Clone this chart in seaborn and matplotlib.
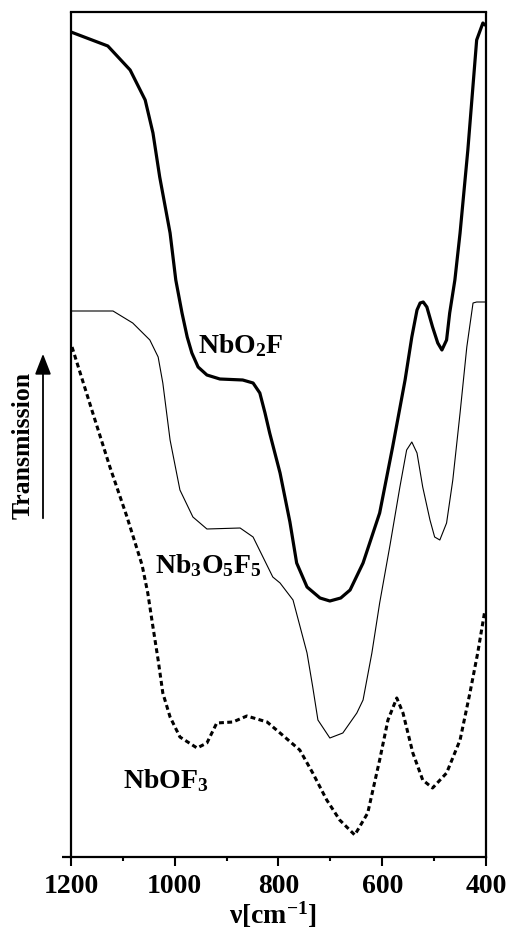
import numpy as np
import pandas as pd
import matplotlib
matplotlib.use("Agg")
import matplotlib.pyplot as plt
import seaborn as sns

# ---- data (wavenumber in cm^-1, transmission in arbitrary units) ----
nbo2f_x = [1200, 1129, 1086, 1057, 1042, 1029, 1009, 998, 986, 976,
           967, 955, 938, 913, 869, 849, 836, 826, 817, 797,
           778, 765, 745, 720, 701, 680, 662, 637, 605, 580,
           556, 543, 533, 527, 521, 514, 503, 493, 485, 476, 470,
           460, 450, 435, 418, 406, 402]
nbo2f_t = [825, 811, 787, 757, 724, 680, 624, 577, 544, 520,
           504, 490, 482, 478, 477, 474, 464, 444, 424, 384,
           335, 294, 270, 259, 256, 259, 267, 294, 344, 410,
           477, 520, 547, 554, 555, 550, 530, 514, 507, 517, 544,
           577, 624, 707, 817, 834, 832]

nb3o5f5_x = [1200, 1119, 1081, 1048, 1032, 1023, 1009, 990, 965, 938,
             874, 849, 830, 811, 797, 772, 745, 734, 724, 701,
             676, 649, 637, 620, 605, 585, 566, 553, 543, 533,
             522, 508, 499, 489, 476, 464, 450, 437, 425, 418,
             402]
nb3o5f5_t = [546, 546, 534, 517, 500, 474, 417, 367, 340, 328,
             329, 320, 300, 280, 274, 257, 204, 170, 137, 119,
             124, 144, 157, 204, 254, 312, 370, 407, 415, 404,
             370, 337, 320, 317, 334, 377, 444, 510, 554, 555,
             555]

nbof3_x = [1198, 1158, 1125, 1092, 1063, 1052, 1042, 1032, 1023, 1009,
           990, 957, 938, 919, 888, 861, 822, 797, 759, 734,
           707, 682, 653, 628, 605, 589, 572, 560, 541, 522,
           503, 476, 450, 431, 416, 402]
nbof3_t = [510, 444, 390, 340, 292, 264, 230, 197, 164, 140,
           120, 109, 114, 134, 135, 141, 135, 124, 107, 84,
           57, 37, 22, 44, 97, 137, 159, 144, 104, 77,
           69, 84, 117, 164, 204, 247]

x_ticks = [1200, 1000, 800, 600, 400]
x_minor = [1100, 900, 700, 500]

# ---- style ----
sns.set_style("ticks")
plt.rcParams["font.family"] = ["Liberation Serif", "DejaVu Serif"]
plt.rcParams["font.weight"] = "bold"
plt.rcParams["text.color"] = "black"
plt.rcParams["xtick.color"] = "black"
plt.rcParams["axes.labelcolor"] = "black"
plt.rcParams["mathtext.fontset"] = "custom"
plt.rcParams["mathtext.rm"] = "Liberation Serif:bold"
plt.rcParams["mathtext.bf"] = "Liberation Serif:bold"
plt.rcParams["mathtext.it"] = "Liberation Serif:italic:bold"

fig = plt.figure(figsize=(5.1, 9.3), dpi=100)
ax = fig.add_axes([71/510, 73/930, 415/510, 844.5/930])

df1 = pd.DataFrame({"x": nbo2f_x, "t": nbo2f_t})
df2 = pd.DataFrame({"x": nb3o5f5_x, "t": nb3o5f5_t})
df3 = pd.DataFrame({"x": nbof3_x, "t": nbof3_t})

sns.lineplot(data=df1, x="x", y="t", ax=ax, color="black", lw=2.3,
             estimator=None, sort=False)
sns.lineplot(data=df2, x="x", y="t", ax=ax, color="black", lw=0.8,
             estimator=None, sort=False)
sns.lineplot(data=df3, x="x", y="t", ax=ax, color="black", lw=2.2,
             estimator=None, sort=False, linestyle=(0, (1.6, 1.1)))

ax.set_xlim(1200, 400)
ax.set_ylim(0, 844.5)
ax.set_yticks([])
ax.set_xticks(x_ticks)
ax.set_xticks(x_minor, minor=True)
ax.set_xticklabels([str(v) for v in x_ticks], fontsize=20, fontweight="bold",
                   color="black")
ax.tick_params(axis="x", which="major", direction="out", length=6.5,
               width=1.5, pad=6, color="black")
ax.tick_params(axis="x", which="minor", direction="out", length=3,
               width=1.5, color="black")
ax.set_xlabel("")
ax.set_ylabel("")
for s in ax.spines.values():
    s.set_visible(True)
    s.set_linewidth(1.6)
    s.set_color("black")
# small extension of the bottom axis line to the left
ax.plot([-0.022, 0], [0, 0], transform=ax.transAxes, clip_on=False,
        color="black", lw=1.6, solid_capstyle="butt")

# curve labels
ax.text(955, 504, "NbO$_2$F", fontsize=20, fontweight="bold", ha="left",
        va="baseline", color="black")
ax.text(1038, 284, "Nb$_3$O$_5$F$_5$", fontsize=20, fontweight="bold",
        ha="left", va="baseline", color="black")
ax.text(1100, 69, "NbOF$_3$", fontsize=20, fontweight="bold", ha="left",
        va="baseline", color="black")

# axis labels
fig.text(273/510, 6/930, "ν[cm$^{-1}$]", fontsize=20, fontweight="bold",
         ha="center", va="baseline", color="black")
fig.text(23/510, 1 - 445/930, "Transmission", fontsize=18.5,
         fontweight="bold", rotation=90, ha="center", va="center",
         color="black")
fig.add_artist(matplotlib.patches.FancyArrowPatch(
    (43/510, 1 - 521/930), (43/510, 1 - 351/930),
    transform=fig.transFigure, arrowstyle="-|>,head_length=0.9,head_width=0.35",
    mutation_scale=14, lw=1.3, color="black"))

fig.savefig("out.png", dpi=100)
